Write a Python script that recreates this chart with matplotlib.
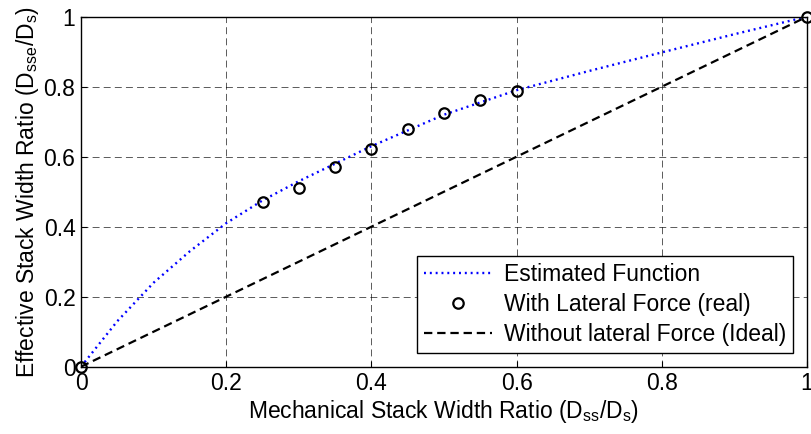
import matplotlib
matplotlib.use('Agg')
import matplotlib.pyplot as plt

# estimated function
est_x = [0, 0.05, 0.1, 0.15, 0.2, 0.25, 0.3, 0.35, 0.4, 0.45, 0.5, 0.55, 0.6, 0.7, 0.8, 0.9, 1.0]
est_y = [0, 0.13, 0.24, 0.33, 0.41, 0.475, 0.53, 0.58, 0.63, 0.675, 0.72, 0.755, 0.79, 0.845, 0.898, 0.95, 1.0]

# measured points with lateral force
real_x = [0, 0.25, 0.3, 0.35, 0.4, 0.45, 0.5, 0.55, 0.6, 1.0]
real_y = [0, 0.471, 0.511, 0.571, 0.622, 0.678, 0.726, 0.762, 0.789, 1.0]

# ideal line
ideal_x = [0, 1]
ideal_y = [0, 1]

ticks = [0, 0.2, 0.4, 0.6, 0.8, 1]
tick_labels = ['0', '0.2', '0.4', '0.6', '0.8', '1']

plt.rcParams['font.family'] = ['Liberation Sans', 'DejaVu Sans']
plt.rcParams['mathtext.fontset'] = 'custom'
plt.rcParams['mathtext.rm'] = 'Liberation Sans'
plt.rcParams['lines.scale_dashes'] = False

fs = 16.5

fig = plt.figure(figsize=(8.11, 4.34), dpi=100)
ax = fig.add_axes([81/811, (434-366.7)/434, 726/811, 350/434])

ax.plot(est_x, est_y, color='blue', linestyle=(0, (1.4, 2.8)), linewidth=1.7, label='Estimated Function')
ax.plot(real_x, real_y, 'o', markersize=7.5, markerfacecolor='none', markeredgecolor='black',
        markeredgewidth=1.6, label='With Lateral Force (real)', clip_on=False, zorder=5)
ax.plot(ideal_x, ideal_y, color='black', linestyle=(0, (6, 3.5)), linewidth=1.6,
        label='Without lateral Force (Ideal)')

ax.set_xlim(0, 1)
ax.set_ylim(0, 1)
ax.set_xticks(ticks)
ax.set_xticklabels(tick_labels)
ax.set_yticks(ticks)
ax.set_yticklabels(tick_labels)
ax.tick_params(direction='in', length=4, width=0.8, labelsize=fs, pad=4, top=False, right=False)
ax.grid(True, color='black', linestyle=(0, (5, 3)), linewidth=0.6, alpha=0.75)
for s in ax.spines.values():
    s.set_linewidth(1.0)

ax.set_xlabel(r'Mechanical Stack Width Ratio (D$_{\rm ss}$/D$_{\rm s}$)', fontsize=fs, labelpad=2)
ax.set_ylabel(r'Effective Stack Width Ratio (D$_{\rm sse}$/D$_{\rm s}$)', fontsize=fs, labelpad=2)

leg = ax.legend(loc='upper right', bbox_to_anchor=((793-81)/726, (366.7-256)/350),
                borderaxespad=0, fontsize=fs, handlelength=3.0, handletextpad=0.5,
                labelspacing=0.3, borderpad=0.3, fancybox=False, framealpha=1)
leg.get_frame().set_edgecolor('black')
leg.get_frame().set_linewidth(1.0)

fig.savefig('out.png', dpi=100)
